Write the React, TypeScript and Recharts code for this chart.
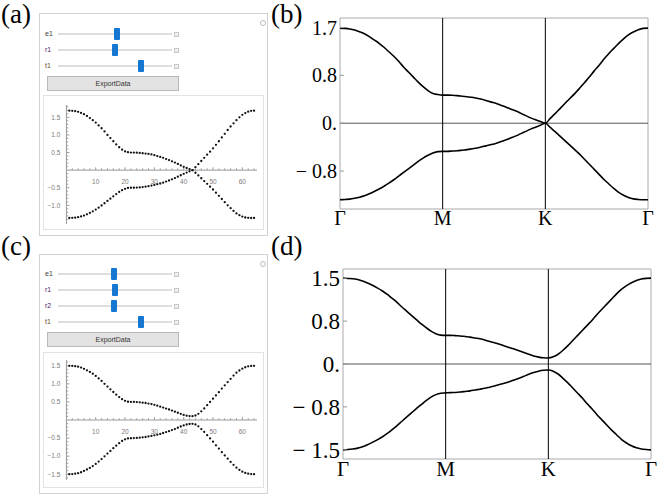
import React from "react";
import {
  LineChart,
  Line,
  XAxis,
  YAxis,
  ReferenceLine,
  ReferenceArea,
  ScatterChart,
  Scatter,
} from "recharts";

// path through the Brillouin zone
const pathTicks = [0, 21, 42, 63];
const pathLabels = ["Γ", "M", "K", "Γ"];

// bands for (a)/(b): Γ -> M -> K -> Γ, 64 samples
const bUpper = [
  1.69, 1.685, 1.675, 1.655, 1.625, 1.59, 1.54, 1.48, 1.42, 1.35, 1.27, 1.19, 1.1, 1.0, 0.91, 0.82, 0.73, 0.65, 0.58, 0.53, 0.51, 0.5,
  0.5, 0.497, 0.49, 0.48, 0.47, 0.46, 0.445, 0.425, 0.4, 0.375, 0.35, 0.315, 0.285, 0.25, 0.215, 0.175, 0.135, 0.095, 0.06, 0.03, 0.0,
  0.085, 0.17, 0.26, 0.35, 0.44, 0.525, 0.62, 0.72, 0.82, 0.93, 1.03, 1.14, 1.24, 1.33, 1.42, 1.5, 1.57, 1.62, 1.66, 1.685, 1.69,
];
const bLower = [
  -1.36, -1.355, -1.35, -1.335, -1.315, -1.29, -1.255, -1.215, -1.17, -1.12, -1.065, -1.005, -0.94, -0.875, -0.81, -0.745, -0.68, -0.62, -0.57, -0.53, -0.505, -0.5,
  -0.5, -0.495, -0.49, -0.48, -0.47, -0.455, -0.44, -0.42, -0.4, -0.38, -0.355, -0.325, -0.295, -0.26, -0.225, -0.185, -0.145, -0.105, -0.07, -0.035, 0.0,
  -0.075, -0.15, -0.23, -0.31, -0.39, -0.47, -0.55, -0.64, -0.73, -0.82, -0.91, -1.0, -1.08, -1.16, -1.23, -1.28, -1.32, -1.345, -1.355, -1.36, -1.36,
];

// bands for (c)/(d), gapped at K
const dUpper = [
  1.5, 1.495, 1.49, 1.475, 1.45, 1.415, 1.375, 1.33, 1.28, 1.22, 1.15, 1.08, 1.0, 0.925, 0.85, 0.775, 0.7, 0.635, 0.575, 0.53, 0.505, 0.5,
  0.5, 0.495, 0.49, 0.48, 0.47, 0.455, 0.44, 0.42, 0.395, 0.37, 0.345, 0.315, 0.29, 0.26, 0.23, 0.2, 0.17, 0.14, 0.12, 0.108, 0.105,
  0.125, 0.17, 0.24, 0.32, 0.41, 0.5, 0.59, 0.68, 0.77, 0.87, 0.96, 1.05, 1.14, 1.23, 1.31, 1.37, 1.42, 1.46, 1.485, 1.497, 1.5,
];
const dLower = [
  -1.5, -1.495, -1.485, -1.47, -1.445, -1.41, -1.37, -1.325, -1.275, -1.215, -1.15, -1.08, -1.005, -0.93, -0.855, -0.78, -0.71, -0.64, -0.58, -0.535, -0.51, -0.505,
  -0.5, -0.497, -0.49, -0.48, -0.47, -0.455, -0.44, -0.425, -0.405, -0.385, -0.36, -0.335, -0.31, -0.28, -0.25, -0.215, -0.18, -0.15, -0.125, -0.11, -0.105,
  -0.125, -0.175, -0.25, -0.33, -0.42, -0.51, -0.6, -0.7, -0.79, -0.89, -0.98, -1.07, -1.16, -1.24, -1.32, -1.38, -1.43, -1.465, -1.485, -1.495, -1.5,
];

// frame ticks of the band plots
const bYTicks = [1.7, 0.85, 0, -0.85];
const bYLabels = ["1.7", "0.8", "0.", "\u2212 0.8"];
const dYTicks = [1.5, 0.75, 0, -0.75, -1.5];
const dYLabels = ["1.5", "0.8", "0.", "\u2212 0.8", "\u2212 1.5"];

// ticks of the small Manipulate plots
const plotXTicks = [10, 20, 30, 40, 50, 60];
const aYTicks = [1.5, 1.0, 0.5, -0.5, -1.0];
const aYLabels = ["1.5", "1.0", "0.5", "\u22120.5", "\u22121.0"];
const cYTicks = [1.5, 1.0, 0.5, -0.5, -1.0, -1.5];
const cYLabels = ["1.5", "1.0", "0.5", "\u22120.5", "\u22121.0", "\u22121.5"];

// slider controls
const aSliderNames = ["e1", "r1", "t1"];
const aSliderPos = [0.52, 0.5, 0.73];
const cSliderNames = ["e1", "r1", "r2", "t1"];
const cSliderPos = [0.49, 0.5, 0.49, 0.725];
const sliderColors: Record<string, string> = {
  e1: "#3a3a3a",
  r1: "#55206b",
  r2: "#55206b",
  t1: "#6b4a1f",
};

const serif = "'Liberation Serif', 'Times New Roman', serif";
const sans = "'Liberation Sans', Arial, sans-serif";

function BandChart({ upper, lower, domain, yTicks, yLabels, left, top, margin, fontSize, xFontSize }: any) {
  const data = upper.map((u: number, k: number) => ({ k, up: u, lo: lower[k] }));
  return (
    <div style={{ position: "absolute", left, top }}>
      <LineChart width={394} height={245} data={data} margin={margin}>
        <XAxis
          dataKey="k"
          type="number"
          domain={[0, 63]}
          ticks={pathTicks}
          interval={0}
          tickFormatter={(v: number) => pathLabels[pathTicks.indexOf(v)]}
          axisLine={false}
          tickLine={false}
          tickSize={0}
          tickMargin={2}
          height={30}
          tick={{ fontFamily: serif, fontSize: xFontSize, fill: "#000" }}
        />
        <YAxis
          type="number"
          domain={domain}
          ticks={yTicks}
          interval={0}
          tickFormatter={(v: number) => yLabels[yTicks.indexOf(v)]}
          axisLine={false}
          tickLine={{ stroke: "#999" }}
          tickSize={-4}
          tickMargin={7}
          width={margin.yw}
          tick={{ fontFamily: serif, fontSize, fill: "#000" }}
        />
        <ReferenceArea x1={0} x2={63} y1={domain[0]} y2={domain[1]} fill="none" fillOpacity={0} stroke="#aaa" />
        <ReferenceLine y={0} stroke="#555" />
        <ReferenceLine x={21} stroke="#000" />
        <ReferenceLine x={42} stroke="#000" />
        <Line type="monotone" dataKey="up" stroke="#000" strokeWidth={1.6} dot={false} isAnimationActive={false} />
        <Line type="monotone" dataKey="lo" stroke="#000" strokeWidth={1.6} dot={false} isAnimationActive={false} />
      </LineChart>
    </div>
  );
}

function DotPlot({ upper, lower, yDomain, yTicks, yLabels, left, top, width, height, margin }: any) {
  const pts = upper
    .map((u: number, k: number) => ({ x: k + 1, y: u }))
    .concat(lower.map((l: number, k: number) => ({ x: k + 1, y: l })));
  const minorX = Array.from({ length: 32 }, (_, i) => (i + 1) * 2).filter((v) => v % 10 !== 0);
  const lo = Math.ceil(yDomain[0] * 10);
  const hi = Math.floor(yDomain[1] * 10);
  const minorY = Array.from({ length: hi - lo + 1 }, (_, i) => (lo + i) / 10).filter(
    (v) => Math.round(v * 10) % 5 !== 0
  );
  const axis = "#9a9a9a";
  const lbl = { fontSize: 6.5, fill: "#7a7a7a", fontFamily: sans };
  return (
    <div
      style={{
        position: "absolute",
        left,
        top,
        width: width - 2,
        height: height - 2,
        border: "1px solid #e2e2e2",
        background: "#fff",
      }}
    >
      <div style={{ position: "absolute", left: -1, top: -1 }}>
        <ScatterChart width={width} height={height} margin={margin}>
          <XAxis type="number" dataKey="x" domain={[0, 65]} hide />
          <YAxis type="number" dataKey="y" domain={yDomain} hide />
          <ReferenceLine y={0} stroke={axis} />
          <ReferenceLine segment={[{ x: 0, y: yDomain[0] }, { x: 0, y: yDomain[1] }]} stroke={axis} />
          {plotXTicks.map((v) => (
            <ReferenceLine
              key={"xt" + v}
              segment={[{ x: v, y: 0 }, { x: v, y: 0.08 }]}
              stroke={axis}
              label={{ value: String(v), position: "bottom", offset: 9, ...lbl }}
            />
          ))}
          {minorX.map((v) => (
            <ReferenceLine key={"xm" + v} segment={[{ x: v, y: 0 }, { x: v, y: 0.05 }]} stroke={axis} />
          ))}
          {yTicks.map((v: number, i: number) => (
            <ReferenceLine
              key={"yt" + v}
              segment={[{ x: 0, y: v }, { x: 1, y: v }]}
              stroke={axis}
              label={{ value: yLabels[i], position: "left", offset: 6, ...lbl }}
            />
          ))}
          {minorY.map((v) => (
            <ReferenceLine key={"ym" + v} segment={[{ x: 0, y: v }, { x: 0.6, y: v }]} stroke={axis} />
          ))}
          <Scatter
            data={pts}
            isAnimationActive={false}
            shape={(p: any) => <circle cx={p.cx} cy={p.cy} r={1.15} fill="#111" />}
          />
        </ScatterChart>
      </div>
    </div>
  );
}

function Controls({ names, pos, firstY, buttonTop }: any) {
  return (
    <>
      {names.map((n: string, i: number) => {
        const cy = firstY + i * 16;
        return (
          <React.Fragment key={n}>
            <div
              style={{
                position: "absolute",
                left: 45,
                top: cy - 5,
                fontSize: 7,
                lineHeight: "10px",
                fontFamily: sans,
                color: sliderColors[n],
              }}
            >
              {n}
            </div>
            <div style={{ position: "absolute", left: 58, top: cy - 1, width: 114, height: 2, background: "#dedede" }} />
            <div
              style={{
                position: "absolute",
                left: 58 + 114 * pos[i] - 3,
                top: cy - 6,
                width: 6,
                height: 12,
                borderRadius: 1,
                background: "#1677d2",
              }}
            />
            <div
              style={{
                position: "absolute",
                left: 174,
                top: cy - 2,
                width: 3,
                height: 3,
                border: "1px solid #c8c8c8",
                background: "#eee",
              }}
            />
          </React.Fragment>
        );
      })}
      <div
        style={{
          position: "absolute",
          left: 47,
          top: buttonTop,
          width: 130,
          height: 13,
          background: "#e3e3e3",
          border: "1px solid #b9b9b9",
          fontFamily: sans,
          fontSize: 7,
          lineHeight: "13px",
          textAlign: "center",
          color: "#333",
        }}
      >
        ExportData
      </div>
    </>
  );
}

function PanelBox({ top, height, children }: any) {
  return (
    <>
      <div
        style={{
          position: "absolute",
          left: 39,
          top,
          width: 227,
          height: height - 2,
          border: "1px solid #d2d2d2",
          background: "#fff",
        }}
      />
      <div
        style={{
          position: "absolute",
          left: 260,
          top: top + 7,
          width: 4,
          height: 4,
          borderRadius: 3,
          border: "1px solid #bbb",
        }}
      />
      {children}
    </>
  );
}

function Tag({ text, left, top }: any) {
  return (
    <div style={{ position: "absolute", left, top, fontFamily: serif, fontSize: 27, lineHeight: "30px", color: "#000" }}>
      {text}
    </div>
  );
}

export default function App() {
  return (
    <div style={{ position: "absolute", left: 0, top: 0, width: 664, height: 495, background: "#fff", overflow: "hidden" }}>
      <Tag text="(a)" left={1} top={-1} />
      <Tag text="(b)" left={271} top={-1} />
      <Tag text="(c)" left={1} top={231} />
      <Tag text="(d)" left={271} top={231} />

      <PanelBox top={13} height={223}>
        <Controls names={aSliderNames} pos={aSliderPos} firstY={34} buttonTop={76} />
        <DotPlot
          upper={bUpper}
          lower={bLower}
          yDomain={[-1.53, 1.85]}
          yTicks={aYTicks}
          yLabels={aYLabels}
          left={43}
          top={95}
          width={221}
          height={135}
          margin={{ top: 10, right: 7, bottom: 6, left: 23.4 }}
        />
      </PanelBox>

      <PanelBox top={254} height={240}>
        <Controls names={cSliderNames} pos={cSliderPos} firstY={274} buttonTop={332} />
        <DotPlot
          upper={dUpper}
          lower={dLower}
          yDomain={[-1.66, 1.66]}
          yTicks={cYTicks}
          yLabels={cYLabels}
          left={43}
          top={352}
          width={221}
          height={136}
          margin={{ top: 8, right: 7, bottom: 8, left: 23.4 }}
        />
      </PanelBox>

      <BandChart
        upper={bUpper}
        lower={bLower}
        domain={[-1.525, 1.87]}
        yTicks={bYTicks}
        yLabels={bYLabels}
        left={270}
        top={0}
        fontSize={20}
        xFontSize={20}
        margin={{ top: 18, right: 16, bottom: 6, left: 0, yw: 70 }}
      />
      <BandChart
        upper={dUpper}
        lower={dLower}
        domain={[-1.66, 1.66]}
        yTicks={dYTicks}
        yLabels={dYLabels}
        left={270}
        top={250}
        fontSize={23}
        xFontSize={21}
        margin={{ top: 19, right: 13, bottom: 6, left: 0, yw: 73 }}
      />
    </div>
  );
}
